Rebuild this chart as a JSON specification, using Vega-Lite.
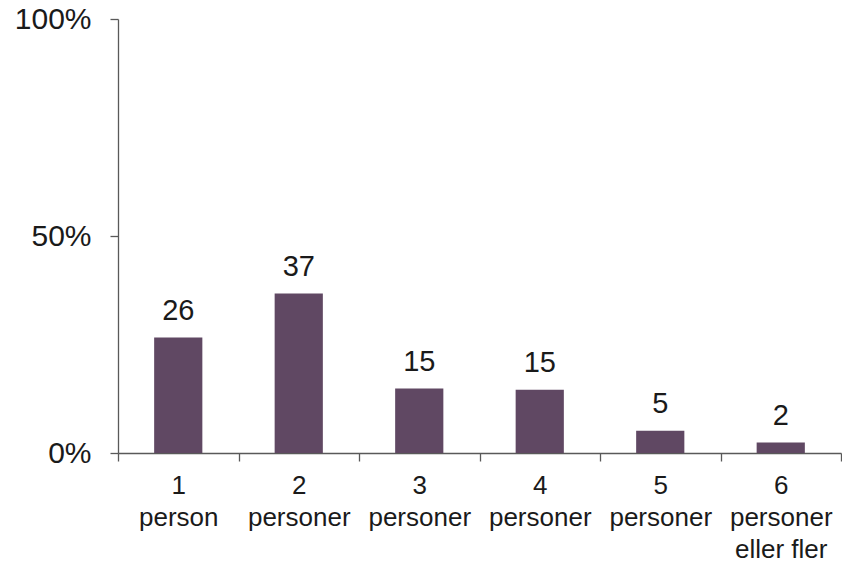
{
  "$schema": "https://vega.github.io/schema/vega-lite/v6.json",
  "width": 723,
  "height": 434,
  "autosize": "none",
  "padding": {"left": 118, "top": 19, "right": 1, "bottom": 109},
  "background": "white",
  "config": {
    "view": {"stroke": null},
    "font": "Liberation Sans"
  },
  "data": {
    "values": [
      {"kategori": "1|person", "andel": 26.6, "etikett": "26"},
      {"kategori": "2|personer", "andel": 36.75, "etikett": "37"},
      {"kategori": "3|personer", "andel": 14.85, "etikett": "15"},
      {"kategori": "4|personer", "andel": 14.6, "etikett": "15"},
      {"kategori": "5|personer", "andel": 5.1, "etikett": "5"},
      {"kategori": "6|personer|eller fler", "andel": 2.4, "etikett": "2"}
    ]
  },
  "encoding": {
    "x": {
      "field": "kategori",
      "type": "nominal",
      "sort": null,
      "scale": {"paddingInner": 0, "paddingOuter": 0},
      "axis": {
        "title": null,
        "labelAngle": 0,
        "labelExpr": "split(datum.label, '|')",
        "labelFont": "Liberation Sans",
        "labelFontSize": 26,
        "labelColor": "#1a1a1a",
        "labelLineHeight": 32,
        "labelPadding": 11,
        "labelBaseline": "top",
        "tickBand": "extent",
        "tickSize": 8,
        "tickColor": "#595959",
        "domainColor": "#595959",
        "domainWidth": 1.3,
        "tickWidth": 1.3,
        "grid": false
      }
    },
    "y": {
      "field": "andel",
      "type": "quantitative",
      "scale": {"domain": [0, 100], "nice": false},
      "axis": {
        "title": null,
        "values": [0, 50, 100],
        "labelExpr": "datum.value + '%'",
        "labelFont": "Liberation Sans",
        "labelFontSize": 30,
        "labelColor": "#1a1a1a",
        "labelPadding": 19,
        "tickSize": 8,
        "tickColor": "#595959",
        "domainColor": "#595959",
        "domainWidth": 1.3,
        "tickWidth": 1.3,
        "grid": false
      }
    }
  },
  "layer": [
    {"mark": {"type": "bar", "color": "#604863", "width": {"band": 0.4}}},
    {
      "mark": {"type": "text", "baseline": "alphabetic", "dy": -18, "fontSize": 29, "font": "Liberation Sans", "color": "#1a1a1a"},
      "encoding": {"text": {"field": "etikett"}}
    }
  ]
}
